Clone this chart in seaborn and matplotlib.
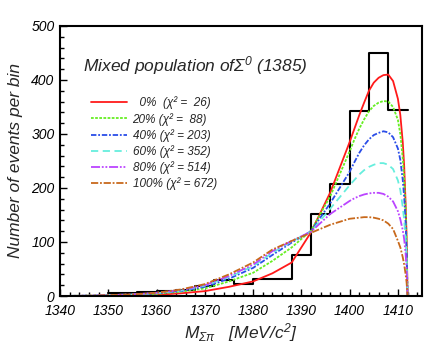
import numpy as np
import pandas as pd
import matplotlib
matplotlib.use("Agg")
import matplotlib.pyplot as plt
import seaborn as sns
from matplotlib.ticker import MultipleLocator

# histogram (data), bin edges in MeV/c^2 and counts per bin
bin_edges = [1350, 1356, 1360, 1364, 1368, 1372, 1376, 1380, 1388, 1392, 1396, 1400, 1404, 1408, 1412]
bin_counts = [6, 7, 10, 12, 19, 29, 22, 32, 76, 152, 208, 343, 449, 345]

# fitted curves
mass = [1340, 1345, 1350, 1355, 1360, 1365, 1370, 1375, 1380, 1384, 1388, 1392, 1396,
        1400, 1401, 1402, 1403, 1404, 1405, 1406, 1407, 1408, 1409, 1410, 1410.5,
        1411, 1411.3, 1411.6, 1411.8, 1412]
curve_0 = [0, 0, 0.5, 1, 2, 5, 9, 17, 27, 42, 62, 118, 192,
           285, 310, 335, 358, 380, 395, 404, 409, 410, 398, 365, 335,
           285, 240, 170, 110, 0]
curve_20 = [0, 0.5, 1, 2, 4, 8, 14, 27, 43, 65, 90, 121, 185,
            268, 290, 310, 327, 342, 352, 358, 361, 360, 350, 326, 300,
            255, 215, 160, 100, 0]
curve_40 = [0, 0.5, 1, 2, 5, 9, 17, 32, 52, 76, 99, 120, 172,
            230, 248, 265, 279, 290, 298, 302, 305, 303, 294, 273, 252,
            215, 183, 135, 85, 0]
curve_60 = [0, 0.5, 1.5, 3, 5, 10, 19, 35, 55, 80, 101, 119, 162,
            205, 215, 225, 233, 239, 243, 246, 246, 243, 235, 214, 196,
            165, 140, 105, 68, 0]
curve_80 = [0, 0.5, 1.5, 3, 6, 11, 20, 37, 58, 83, 102, 119, 152,
            176, 181, 185, 188, 190, 191, 191, 189, 184, 175, 157, 142,
            122, 105, 78, 50, 0]
curve_100 = [0, 0.5, 1.5, 3, 6, 12, 22, 40, 62, 86, 102, 117, 132,
             143, 144, 145, 146, 146, 145, 143, 140, 134, 124, 102, 90,
             72, 58, 40, 25, 0]

labels = ["  0%  (χ² =  26)", "20% (χ² =  88)", "40% (χ² = 203)",
          "60% (χ² = 352)", "80% (χ² = 514)", "100% (χ² = 672)"]
curves = [curve_0, curve_20, curve_40, curve_60, curve_80, curve_100]
colors = ["#ff1a1a", "#66ee22", "#2a4de8", "#66eedd", "#bb44ff", "#c8691c"]
styles = ["-", (0, (1.5, 0.8)), (0, (3, 1, 1, 1)), (0, (4, 2.5)), (0, (5, 1, 1, 1, 1, 1)), (0, (4, 1, 1, 1))]

sns.set_style("ticks")
plt.rcParams["font.family"] = ["Liberation Sans", "DejaVu Sans"]
plt.rcParams["mathtext.fontset"] = "custom"
plt.rcParams["mathtext.it"] = "Liberation Sans:italic"
plt.rcParams["mathtext.rm"] = "Liberation Sans:italic"

fig = plt.figure(figsize=(4.36, 3.46), dpi=100)
ax = fig.add_axes([0.1376, 0.1445, 0.8304, 0.7805])

centers = [(a + b) / 2 for a, b in zip(bin_edges[:-1], bin_edges[1:])]
sns.histplot(x=centers, weights=bin_counts, bins=bin_edges, element="step",
             fill=False, color="black", linewidth=1.5, ax=ax)

for y, lab, c, ls in zip(curves, labels, colors, styles):
    sns.lineplot(x=mass, y=y, color=c, linestyle=ls, linewidth=1.3, label=lab, ax=ax)

ax.set_xlim(1340, 1415)
ax.set_ylim(0, 500)
ax.xaxis.set_major_locator(MultipleLocator(10))
ax.xaxis.set_minor_locator(MultipleLocator(2))
ax.yaxis.set_major_locator(MultipleLocator(100))
ax.yaxis.set_minor_locator(MultipleLocator(20))
ax.tick_params(which="both", direction="in", width=1, colors="black", labelsize=10)
ax.tick_params(which="major", length=5)
ax.tick_params(which="minor", length=3)
ax.tick_params(axis="x", pad=6)
ax.tick_params(axis="y", pad=4)
for lbl in ax.get_xticklabels() + ax.get_yticklabels():
    lbl.set_fontstyle("italic")
for s in ax.spines.values():
    s.set_linewidth(1.5)
    s.set_color("black")

ax.set_ylabel("Number of events per bin", fontsize=12.5, style="italic", labelpad=6)
ax.set_xlabel(r"$M_{\Sigma\pi}$   [MeV/c$^2$]", fontsize=12.5, style="italic", labelpad=2)

ax.text(1344.8, 427, r"Mixed population of$\Sigma^0$ (1385)", fontsize=12.5,
        style="italic", va="center", ha="left")

leg = ax.legend(loc="upper left", bbox_to_anchor=(0.07, 0.76), frameon=False,
                fontsize=8.5, handlelength=3.0, handletextpad=0.5,
                labelspacing=0.28, borderpad=0)
for t in leg.get_texts():
    t.set_fontstyle("italic")

plt.savefig("out.png", dpi=100)
